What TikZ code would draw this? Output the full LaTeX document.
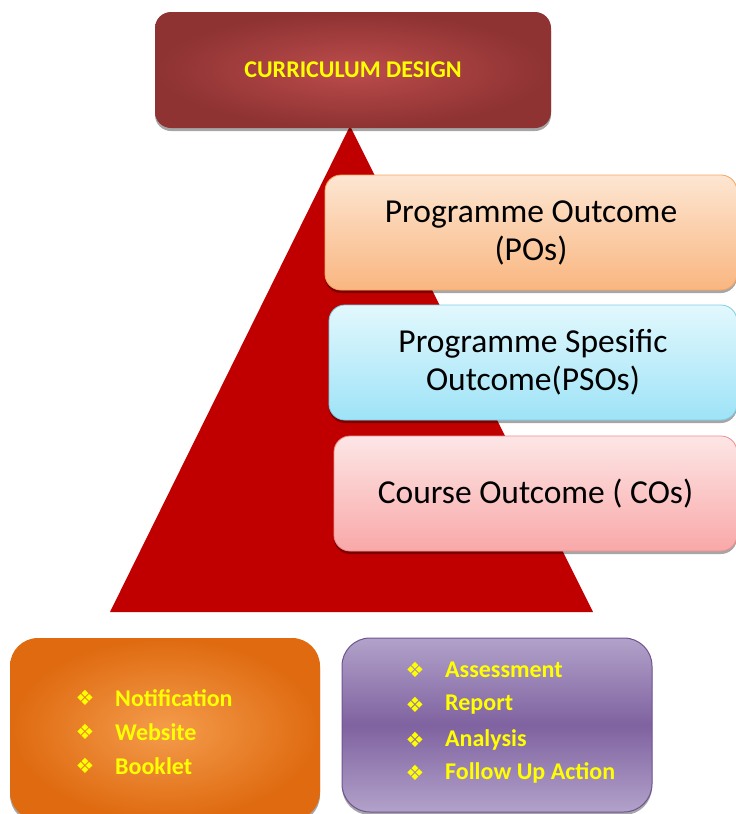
\documentclass[tikz,border=0pt]{standalone}
\usepackage{fontspec}
\setmainfont{Carlito}
\newfontfamily\symf{DejaVu Sans}
\usetikzlibrary{shadows}
\definecolor{trired}{HTML}{C00000}
\definecolor{cdin}{HTML}{BC4C4C}
\definecolor{cdout}{HTML}{8E3232}
\definecolor{potop}{HTML}{FDE6D2}
\definecolor{pobot}{HTML}{F9B680}
\definecolor{poline}{HTML}{F7A45C}
\definecolor{psotop}{HTML}{E2F8FD}
\definecolor{psobot}{HTML}{9EE3F7}
\definecolor{psoline}{HTML}{7CCDE6}
\definecolor{cotop}{HTML}{FDE6E6}
\definecolor{cobot}{HTML}{F9A8A8}
\definecolor{coline}{HTML}{F08C8C}
\definecolor{orin}{HTML}{F49C4C}
\definecolor{orout}{HTML}{DF6A10}
\definecolor{pulight}{HTML}{B2A2CA}
\definecolor{pudark}{HTML}{7F62A0}
\definecolor{puline}{HTML}{6E5490}
\definecolor{yel}{HTML}{FFFF00}
\tikzset{
  shad/.style={drop shadow={shadow xshift=0pt,shadow yshift=-3pt,opacity=0.35,fill=black}},
  outbox/.style={rectangle, rounded corners=16pt, minimum width=#1, shad},
  cdbox/.style={outbox=396pt, minimum height=116pt, inner color=cdin, outer color=cdout,
     font=\bfseries\fontsize{24}{28}\selectfont, text=yel},
  outfont/.style={font=\fontsize{33.5}{38}\selectfont, align=center},
  pobox/.style={outbox=412pt, minimum height=115pt, top color=potop, bottom color=pobot, draw=poline, line width=0.8pt, outfont},
  psobox/.style={outbox=408pt, minimum height=115pt, top color=psotop, bottom color=psobot, draw=psoline, line width=0.8pt, outfont},
  cobox/.style={outbox=403pt, minimum height=115pt, top color=cotop, bottom color=cobot, draw=coline, line width=0.8pt, outfont},
  orbox/.style={outbox=310pt, rounded corners=28pt, minimum height=182pt, inner color=orin, outer color=orout},
  pubox/.style={outbox=310pt, rounded corners=28pt, minimum height=174pt, top color=pulight, bottom color=pulight, middle color=pudark, draw=puline, line width=1pt},
  item/.style={anchor=west, text=yel, font=\bfseries\fontsize{24}{28}\selectfont, inner sep=0pt},
  bul/.style={text=yel, font=\symf\fontsize{21}{24}\selectfont, inner sep=0pt},
}
\begin{document}
\begin{tikzpicture}[x=1pt,y=-1pt]
\useasboundingbox (0,0) rectangle (736,814);
\clip (0,0) rectangle (736,814);
% pyramid
\coordinate (apex) at (350,126);
\coordinate (bl) at (110,612);
\coordinate (br) at (593,612);
\fill[trired] (apex) -- (bl) -- (br) -- cycle;
% top box
\node[cdbox] (cd) at (353,70) {CURRICULUM DESIGN};
% outcome boxes
\node[pobox] (po) at (531,232.5) {Programme Outcome\\(POs)};
\node[psobox] (pso) at (533,362.5) {Programme Spesific\\Outcome(PSOs)};
\node[cobox] (co) at (535.5,493.5) {Course Outcome ( COs)};
% bottom boxes
\node[orbox] (ob) at (165,729) {};
\node[pubox] (pb) at (497,725) {};
% left items
\node[bul] (b1) at (85,698) {❖};
\node[item] (t1) at (115,698) {Notification};
\node[bul] (b2) at (85,732) {❖};
\node[item] (t2) at (115,732) {Website};
\node[bul] (b3) at (85,766) {❖};
\node[item] (t3) at (115,766) {Booklet};
% right items
\node[bul] (c1) at (415,670) {❖};
\node[item] (u1) at (445,670) {Assessment};
\node[bul] (c2) at (415,705) {❖};
\node[item] (u2) at (445,705) {Report};
\node[bul] (c3) at (415,740) {❖};
\node[item] (u3) at (445,740) {Analysis};
\node[bul] (c4) at (415,773) {❖};
\node[item] (u4) at (445,773) {Follow Up Action};
\end{tikzpicture}
\end{document}
